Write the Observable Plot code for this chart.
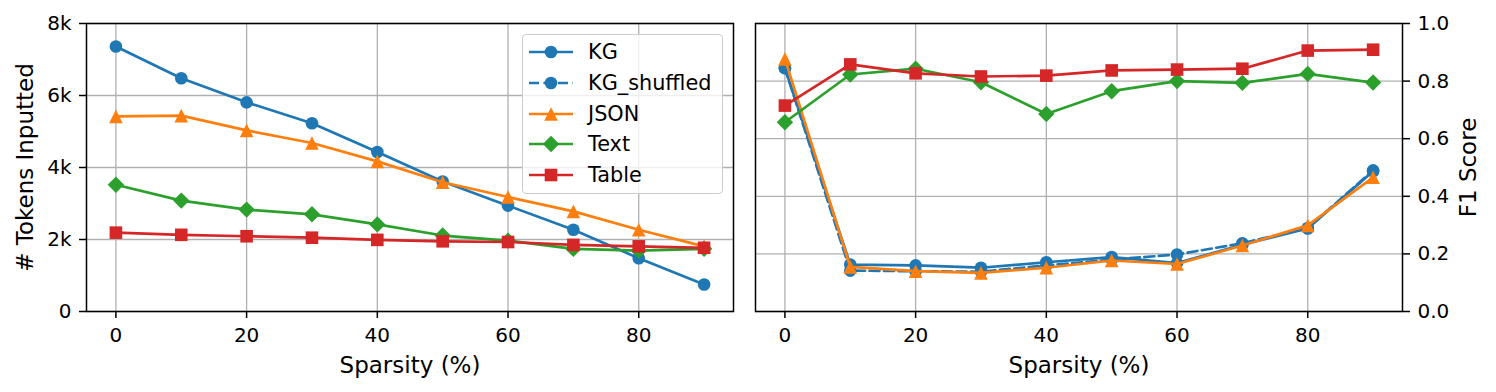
<!DOCTYPE html>
<html>
<head>
<meta charset="utf-8">
<script src="https://cdn.jsdelivr.net/npm/d3@7"></script>
<script src="https://cdn.jsdelivr.net/npm/@observablehq/plot@0.6"></script>
<style>
  html, body { margin: 0; padding: 0; background: #fff; }
  #wrap { position: relative; width: 1496px; height: 392px; font-family: "DejaVu Sans", sans-serif; }
  #left, #right { position: absolute; top: 0; }
  #left { left: 0; }
  #right { left: 742px; }
  #legend { position: absolute; left: 522px; top: 34px; width: 199px; height: 158px;
            background: rgba(255,255,255,0.8); border: 1px solid #cccccc; border-radius: 4px; }
  .lrow { position: absolute; left: 0; height: 30px; width: 199px; }
  .lrow svg { position: absolute; left: 5px; top: 0; }
  .lrow span { position: absolute; left: 65px; top: 0; line-height: 30px; font-size: 20.8px; color: #000; white-space: nowrap; }
</style>
</head>
<body>
<div id="wrap">
  <div id="left"></div>
  <div id="right"></div>
  <div id="legend"></div>
</div>
<script>
// ---- data ----
const sparsity = [0, 10, 20, 30, 40, 50, 60, 70, 80, 90];

const seriesNames = ["KG", "KG_shuffled", "JSON", "Text", "Table"];

// Left panel: # Tokens Inputted
const tokensKG    = [7360, 6480, 5810, 5230, 4430, 3610, 2940, 2270, 1480, 750];
const tokensJSON  = [5420, 5440, 5030, 4680, 4170, 3590, 3180, 2780, 2270, 1810];
const tokensText  = [3520, 3080, 2830, 2700, 2420, 2110, 1970, 1740, 1690, 1740];
const tokensTable = [2190, 2130, 2090, 2050, 1990, 1950, 1930, 1850, 1810, 1770];

// Right panel: F1 Score
const f1KG         = [0.845, 0.163, 0.160, 0.152, 0.171, 0.189, 0.168, 0.232, 0.288, 0.487];
const f1KGShuffled = [0.845, 0.142, 0.140, 0.138, 0.160, 0.180, 0.198, 0.237, 0.290, 0.490];
const f1JSON       = [0.877, 0.155, 0.140, 0.134, 0.152, 0.177, 0.165, 0.229, 0.299, 0.466];
const f1Text       = [0.657, 0.823, 0.843, 0.796, 0.686, 0.765, 0.800, 0.794, 0.825, 0.795];
const f1Table      = [0.715, 0.858, 0.827, 0.816, 0.819, 0.837, 0.840, 0.843, 0.906, 0.909];

const xTicks = [0, 20, 40, 60, 80];
const tokenTicks = [0, 2000, 4000, 6000, 8000];
const f1Ticks = [0, 0.2, 0.4, 0.6, 0.8, 1.0];

// ---- styling ----
const C = { blue: "#1f77b4", orange: "#ff7f0e", green: "#2ca02c", red: "#d62728" };
const LW = 2.7;
const DASH = "10,4.5";
const symTri = { draw(c, s) { const r = Math.sqrt(s / Math.PI); c.moveTo(0, -r); c.lineTo(r, r); c.lineTo(-r, r); c.closePath(); } };
const symDiamond = { draw(c, s) { const r = Math.sqrt(s / Math.PI); c.moveTo(0, -r); c.lineTo(r, 0); c.lineTo(0, r); c.lineTo(-r, 0); c.closePath(); } };
const symSquare = { draw(c, s) { const r = Math.sqrt(s / Math.PI); c.moveTo(-r, -r); c.lineTo(r, -r); c.lineTo(r, r); c.lineTo(-r, r); c.closePath(); } };

const styleOf = {
  "KG":          { color: C.blue,   symbol: "circle",   r: 6.3, dash: null },
  "KG_shuffled": { color: C.blue,   symbol: "circle",   r: 6.3, dash: DASH },
  "JSON":        { color: C.orange, symbol: symTri,     r: 6.8, dash: null },
  "Text":        { color: C.green,  symbol: symDiamond, r: 8.2, dash: null },
  "Table":       { color: C.red,    symbol: symSquare,  r: 6.3, dash: null }
};

function rows(vals) { return sparsity.map((x, i) => ({ x, y: vals[i] })); }

function seriesMarks(name, vals) {
  const st = styleOf[name];
  const data = rows(vals);
  return [
    Plot.line(data, { x: "x", y: "y", stroke: st.color, strokeWidth: LW, strokeDasharray: st.dash || undefined }),
    Plot.dot(data, { x: "x", y: "y", fill: st.color, stroke: "none", r: st.r, symbol: st.symbol })
  ];
}

const gridStyle = { stroke: "#b0b0b0", strokeOpacity: 1, strokeWidth: 1.3 };
const fontCommon = { fontFamily: "DejaVu Sans, sans-serif", fontSize: "20px", color: "#000", background: "transparent", overflow: "visible" };
const LABEL_FS = 23;

// ---- left plot ----
const left = Plot.plot({
  width: 742, height: 392,
  marginLeft: 86, marginRight: 9, marginTop: 23, marginBottom: 81,
  style: fontCommon,
  x: { domain: [-4.5, 94.5] },
  y: { domain: [0, 8000] },
  marks: [
    Plot.gridX(xTicks, gridStyle),
    Plot.gridY(tokenTicks, gridStyle),
    ...seriesMarks("KG", tokensKG),
    ...seriesMarks("JSON", tokensJSON),
    ...seriesMarks("Text", tokensText),
    ...seriesMarks("Table", tokensTable),
    Plot.frame({ stroke: "#000", strokeWidth: 1.5 }),
    Plot.axisX(xTicks, { tickSize: 7, tickPadding: 9, strokeWidth: 1.5, label: null, fontSize: 20 }),
    Plot.axisY(tokenTicks, { tickSize: 7, tickPadding: 8, strokeWidth: 1.5, label: null, fontSize: 20,
      tickFormat: d => d === 0 ? "0" : (d / 1000) + "k" }),
    Plot.text(["Sparsity (%)"], { frameAnchor: "bottom", dy: 54, fontSize: LABEL_FS, textAnchor: "middle", lineAnchor: "middle", fill: "#000" }),
    Plot.text(["# Tokens Inputted"], { frameAnchor: "left", dx: -61, rotate: -90, fontSize: LABEL_FS, textAnchor: "middle", lineAnchor: "middle", fill: "#000" })
  ]
});
document.getElementById("left").appendChild(left);

// ---- right plot ----
const right = Plot.plot({
  width: 754, height: 392,
  marginLeft: 13, marginRight: 94, marginTop: 23, marginBottom: 81,
  style: fontCommon,
  x: { domain: [-4.5, 94.5] },
  y: { domain: [0, 1] },
  marks: [
    Plot.gridX(xTicks, gridStyle),
    Plot.gridY(f1Ticks, gridStyle),
    ...seriesMarks("KG", f1KG),
    ...seriesMarks("KG_shuffled", f1KGShuffled),
    ...seriesMarks("JSON", f1JSON),
    ...seriesMarks("Text", f1Text),
    ...seriesMarks("Table", f1Table),
    Plot.frame({ stroke: "#000", strokeWidth: 1.5 }),
    Plot.axisX(xTicks, { tickSize: 7, tickPadding: 9, strokeWidth: 1.5, label: null, fontSize: 20 }),
    Plot.axisY(f1Ticks, { anchor: "right", tickSize: 7, tickPadding: 8, strokeWidth: 1.5, label: null, fontSize: 20,
      tickFormat: d => d.toFixed(1) }),
    Plot.text(["Sparsity (%)"], { frameAnchor: "bottom", dy: 54, fontSize: LABEL_FS, textAnchor: "middle", lineAnchor: "middle", fill: "#000" }),
    Plot.text(["F1 Score"], { frameAnchor: "right", dx: 66, rotate: -90, fontSize: LABEL_FS, textAnchor: "middle", lineAnchor: "middle", fill: "#000" })
  ]
});
document.getElementById("right").appendChild(right);

// ---- legend ----
const legend = document.getElementById("legend");
const rowTops = [2, 32.7, 64.3, 94.3, 125.3];
function symbolPath(name) {
  const st = styleOf[name];
  const sym = typeof st.symbol === "string" ? d3.symbolCircle : st.symbol;
  return d3.symbol(sym, Math.PI * st.r * st.r)();
}
seriesNames.forEach((name, i) => {
  const st = styleOf[name];
  const row = document.createElement("div");
  row.className = "lrow";
  row.style.top = rowTops[i] + "px";
  const dash = st.dash ? `stroke-dasharray="${st.dash}"` : "";
  row.innerHTML = `<svg width="46" height="30" viewBox="0 0 46 30">
      <line x1="1" y1="15" x2="45" y2="15" stroke="${st.color}" stroke-width="${LW}" ${dash}/>
      <path transform="translate(23,15)" d="${symbolPath(name)}" fill="${st.color}"/>
    </svg><span>${name}</span>`;
  legend.appendChild(row);
});
</script>
</body>
</html>
